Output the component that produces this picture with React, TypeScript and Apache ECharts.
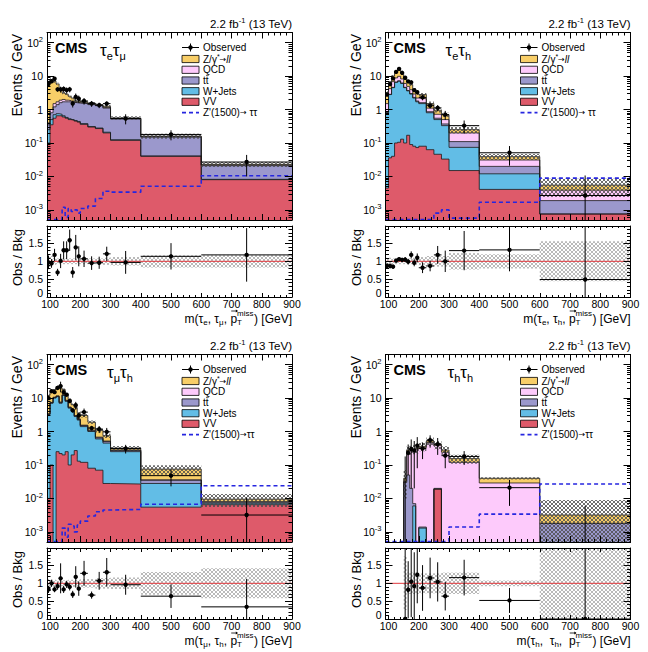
import React, { useEffect, useRef } from 'react';
import * as echarts from 'echarts';

const FONT = '"Liberation Sans", Arial, Helvetica, sans-serif';
const SYM = '"DejaVu Sans", "Liberation Sans", sans-serif';

// ---------- shared binning / ticks ----------
const binEdges = [90, 100, 110, 120, 130, 140, 150, 160, 170, 180, 190, 200, 225, 250, 275, 300, 400, 600, 900];
const xTickLabels = [100, 200, 300, 400, 500, 600, 700, 800, 900];
const ratioTickLabels = [0, 0.5, 1, 1.5];

// ---------- e mu channel (stack tops, events / GeV) ----------
const emuVV = [0.10, 0.35, 0.55, 0.65, 0.65, 0.60, 0.55, 0.50, 0.48, 0.45, 0.42, 0.36, 0.30, 0.27, 0.20, 0.12, 0.040, 0.0080];
const emuWJ = [0.25, 0.50, 0.70, 0.75, 0.72, 0.65, 0.58, 0.53, 0.50, 0.47, 0.44, 0.38, 0.31, 0.28, 0.21, 0.125, 0.041, 0.0082];
const emuTT = [0.35, 0.80, 1.20, 1.40, 1.60, 1.70, 1.70, 1.70, 1.65, 1.60, 1.55, 1.50, 1.40, 1.30, 1.10, 0.52, 0.15, 0.021];
const emuQCD = [0.40, 1.00, 1.50, 1.70, 1.90, 2.00, 1.90, 1.85, 1.75, 1.65, 1.62, 1.55, 1.45, 1.32, 1.15, 0.54, 0.155, 0.022];
const emuDY = [6.0, 7.5, 7.0, 5.8, 4.0, 3.1, 2.9, 2.5, 2.2, 1.75, 1.8, 1.7, 1.55, 1.4, 1.25, 0.56, 0.16, 0.023];
const emuObs = [5.8, 7.0, 8.3, 4.0, 4.0, 4.1, 3.8, 4.0, 1.5, 2.4, 2.1, 1.8, 1.5, 1.35, 1.5, 0.54, 0.18, 0.027];
const emuObsErr = [1.1, 0.9, 1.2, 0.6, 0.8, 0.8, 0.75, 0.75, 0.35, 0.6, 0.5, 0.4, 0.3, 0.25, 0.25, 0.18, 0.06, 0.017];
const emuRatio = [0.97, 0.94, 1.18, 0.69, 1.01, 1.31, 1.31, 1.59, 0.69, 1.39, 1.14, 1.07, 0.95, 0.96, 1.21, 0.97, 1.14, 1.18];
const emuRatioErr = [0.19, 0.12, 0.17, 0.10, 0.20, 0.25, 0.25, 0.30, 0.15, 0.35, 0.28, 0.23, 0.19, 0.17, 0.20, 0.32, 0.37, 0.75];
const emuUnc = [0.20, 0.15, 0.10, 0.08, 0.08, 0.08, 0.08, 0.08, 0.08, 0.08, 0.08, 0.08, 0.08, 0.08, 0.10, 0.12, 0.17, 0.17];
const emuZp = [5.2e-4, 5.2e-4, 5.2e-4, 5.2e-4, 5.2e-4, 1.2e-3, 6e-4, 1.1e-3, 9e-4, 1.0e-3, 8e-4, 1.1e-3, 1.3e-3, 2.2e-3, 3.6e-3, 3.4e-3, 5.1e-3, 0.0105];

// ---------- e tau_h channel ----------
const etVV = [0.0045, 0.036, 0.04, 0.10, 0.105, 0.13, 0.10, 0.17, 0.09, 0.08, 0.073, 0.08, 0.063, 0.046, 0.033, 0.015, 0.0041, 0.00075];
const etWJ = [0.80, 2.8, 4.5, 6.5, 7.0, 6.0, 4.5, 3.6, 2.9, 2.2, 1.7, 1.5, 0.80, 0.50, 0.33, 0.074, 0.012, 0.00076];
const etTT = [0.83, 2.85, 4.6, 6.6, 7.2, 6.2, 4.6, 3.7, 3.0, 2.3, 1.8, 1.6, 0.86, 0.55, 0.37, 0.11, 0.020, 0.0019];
const etQCD = [1.5, 4.2, 6.8, 8.8, 9.8, 8.2, 6.0, 4.9, 3.9, 2.9, 2.2, 2.1, 1.1, 0.72, 0.50, 0.20, 0.031, 0.0039];
const etDY = [3.2, 6.5, 10, 13, 15.5, 12, 8.5, 7.0, 5.5, 4.0, 3.0, 2.8, 1.5, 0.95, 0.70, 0.25, 0.039, 0.0055];
const etObs = [2.8, 5.7, 8.5, 13.3, 16.4, 12.5, 8.9, 6.9, 6.5, 3.8, 3.3, 2.3, 1.3, 1.12, 0.70, 0.33, 0.051, 0.0027];
const etObsErr = [0.3, 0.5, 0.6, 0.8, 0.8, 0.7, 0.6, 0.56, 0.55, 0.4, 0.36, 0.42, 0.22, 0.24, 0.21, 0.14, 0.03, 0.008];
const etRatio = [0.87, 0.87, 0.85, 1.02, 1.06, 1.04, 1.05, 0.99, 1.18, 0.96, 1.10, 0.82, 0.87, 1.18, 1.00, 1.30, 1.32, 0.49];
const etRatioErr = [0.08, 0.07, 0.06, 0.06, 0.05, 0.06, 0.07, 0.08, 0.10, 0.10, 0.12, 0.15, 0.15, 0.25, 0.30, 0.55, 0.60, 1.50];
const etUnc = [0.10, 0.10, 0.08, 0.08, 0.08, 0.08, 0.08, 0.08, 0.08, 0.10, 0.10, 0.12, 0.15, 0.15, 0.15, 0.23, 0.20, 0.56];
const etZp = [5.2e-4, 5.2e-4, 5.2e-4, 5.2e-4, 5.2e-4, 5.2e-4, 5.2e-4, 5.2e-4, 5.2e-4, 5.2e-4, 5.2e-4, 5.2e-4, 5.2e-4, 8e-4, 1.0e-3, 5.7e-4, 1.7e-3, 8.9e-3];

// ---------- mu tau_h channel ----------
const mtVV = [0.010, 0.10, 0, 0.25, 0.22, 0.20, 0.25, 0.10, 0.20, 0.27, 0.13, 0.12, 0.08, 0.07, 0.028, 0.027, 0.0055, 0.0065];
const mtWJ = [3.2, 7, 10, 11, 7, 12, 8, 5, 4, 2.8, 2.2, 1.4, 1.0, 0.6, 0.45, 0.25, 0.028, 0.0072];
const mtTT = [3.3, 7.2, 10.3, 11.3, 7.3, 12.3, 8.3, 5.2, 4.15, 2.9, 2.3, 1.5, 1.05, 0.65, 0.5, 0.27, 0.035, 0.0078];
const mtQCD = [3.4, 7.4, 10.6, 11.6, 7.6, 12.6, 8.6, 5.4, 4.3, 3.0, 2.4, 1.55, 1.1, 0.68, 0.52, 0.28, 0.036, 0.008];
const mtDY = [12, 16, 18, 22, 20, 18, 13, 9, 6.3, 5.2, 3.5, 3.0, 1.9, 1.1, 0.75, 0.32, 0.075, 0.0095];
const mtObs = [10, 16, 15, 20, 22.8, 15, 12.6, 8.1, 4.3, 6.1, 3.0, 3.8, 1.27, 1.18, 0.98, 0.31, 0.048, 0.0032];
const mtObsErr = [1.2, 1.6, 1.4, 2.2, 8, 1.8, 1.3, 0.9, 0.63, 1.6, 0.7, 1.05, 0.19, 0.28, 0.3, 0.09, 0.025, 0.0074];
const mtRatio = [0.83, 1.00, 0.83, 0.92, 1.14, 0.83, 0.97, 0.90, 0.69, 1.18, 0.85, 1.28, 0.67, 1.07, 1.31, 0.96, 0.64, 0.34];
const mtRatioErr = [0.10, 0.10, 0.08, 0.10, 0.42, 0.10, 0.10, 0.10, 0.10, 0.30, 0.20, 0.35, 0.10, 0.25, 0.40, 0.28, 0.33, 0.78];
const mtUnc = [0.12, 0.10, 0.10, 0.08, 0.08, 0.08, 0.08, 0.10, 0.10, 0.10, 0.10, 0.12, 0.12, 0.15, 0.15, 0.16, 0.32, 0.42];
const mtZp = [5.2e-4, 5.2e-4, 5.2e-4, 5.2e-4, 5.2e-4, 1.3e-3, 7e-4, 1.7e-3, 1.5e-3, 1.0e-3, 1.6e-3, 2.1e-3, 3e-3, 4e-3, 4.5e-3, 4.7e-3, 6.7e-3, 0.024];

// ---------- tau_h tau_h channel ----------
const hhVV = [0, 0, 0, 0, 0, 0, 0, 0, 0, 0, 0, 0, 0, 0.019, 0, 0, 0, 0];
const hhWJ = [0, 0, 0, 0, 0, 0, 0, 0, 0, 0.006, 0, 0.0013, 0, 0.019, 0, 0, 0, 0];
const hhTT = [0, 0, 0, 0, 0, 0, 0.03, 0.05, 0.02, 0.007, 0, 0.0014, 0, 0.02, 0, 0, 0, 0.0018];
const hhQCD = [0, 0, 0, 0, 0, 0, 0.032, 0.26, 0.27, 0.28, 0.30, 0.33, 0.47, 0.38, 0.24, 0.12, 0.029, 0.0018];
const hhDY = [0, 0, 0, 0, 0, 0, 0.04, 0.28, 0.29, 0.30, 0.32, 0.36, 0.52, 0.41, 0.28, 0.155, 0.04, 0.0032];
const hhObs = [null, null, null, null, null, null, 0, 0.23, 0.30, 0.27, 0.38, 0.31, 0.55, 0.42, 0.19, 0.18, 0.021, 0];
const hhObsErr = [0, 0, 0, 0, 0, 0, 0.18, 0.18, 0.28, 0.25, 0.3, 0.16, 0.22, 0.22, 0.11, 0.08, 0.015, 0.006];
const hhRatio = [null, null, null, null, null, null, 0, 0.82, 1.05, 0.92, 1.24, 0.87, 1.15, 1.04, 0.64, 1.16, 0.52, 0];
const hhRatioErr = [0, 0, 0, 0, 0, 0, 4, 0.8, 1.0, 0.95, 0.8, 0.64, 0.57, 0.55, 0.4, 0.5, 0.35, 4];
const hhUnc = [0, 0, 0, 0, 0, 0, 0.75, 0.3, 0.3, 0.3, 0.3, 0.28, 0.28, 0.28, 0.3, 0.3, 0.08, 1.8];
const hhZp = [5.2e-4, 5.2e-4, 5.2e-4, 5.2e-4, 5.2e-4, 5.2e-4, 5.2e-4, 5.2e-4, 5.2e-4, 5.2e-4, 5.2e-4, 5.2e-4, 5.2e-4, 5.2e-4, 5.2e-4, 1.4e-3, 3.4e-3, 0.027];

const COL = { dy: '#f8ce68', qcd: '#fdcafb', tt: '#9b98cc', wj: '#62bde6', vv: '#de5a6a', zp: '#2626e0', red: '#e2383d' };

const panels = [
  { ox: 0, oy: 0, chanX: 100, chan: 'τ{s|e}τ{s|μ}', xLeft: 'm(τ{s|e}, τ{s|μ}, ', zpArrowSpace: true,
    vv: emuVV, wj: emuWJ, tt: emuTT, qcd: emuQCD, dy: emuDY, obs: emuObs, obsErr: emuObsErr, ratio: emuRatio, ratioErr: emuRatioErr, unc: emuUnc, zp: emuZp },
  { ox: 338.5, oy: 0, chanX: 107, chan: 'τ{s|e}τ{s|h}', xLeft: 'm(τ{s|e}, τ{s|h}, ', zpArrowSpace: true,
    vv: etVV, wj: etWJ, tt: etTT, qcd: etQCD, dy: etDY, obs: etObs, obsErr: etObsErr, ratio: etRatio, ratioErr: etRatioErr, unc: etUnc, zp: etZp },
  { ox: 0, oy: 322, chanX: 107, chan: 'τ{s|μ}τ{s|h}', xLeft: 'm(τ{s|μ}, τ{s|h}, ', zpArrowSpace: false,
    vv: mtVV, wj: mtWJ, tt: mtTT, qcd: mtQCD, dy: mtDY, obs: mtObs, obsErr: mtObsErr, ratio: mtRatio, ratioErr: mtRatioErr, unc: mtUnc, zp: mtZp },
  { ox: 338.5, oy: 322, chanX: 109, chan: 'τ{s|h}τ{s|h}', xLeft: 'm(τ{s|h},  τ{s|h},  ', zpArrowSpace: false,
    vv: hhVV, wj: hhWJ, tt: hhTT, qcd: hhQCD, dy: hhDY, obs: hhObs, obsErr: hhObsErr, ratio: hhRatio, ratioErr: hhRatioErr, unc: hhUnc, zp: hhZp },
];

function hatch(color: string, size: number, lw: number) {
  const svg = `<svg xmlns="http://www.w3.org/2000/svg" width="${size}" height="${size}"><path d="M0 0L${size} ${size}M${size} 0L0 ${size}" stroke="${color}" stroke-width="${lw}" fill="none"/></svg>`;
  return { image: 'data:image/svg+xml;charset=utf-8,' + encodeURIComponent(svg), repeat: 'repeat', imageWidth: size, imageHeight: size };
}

let measureCtx: CanvasRenderingContext2D | null = null;
function textWidth(s: string, size: number, family = FONT) {
  if (!measureCtx) measureCtx = document.createElement('canvas').getContext('2d');
  if (!measureCtx) return s.length * size * 0.55;
  measureCtx.font = `${size}px ${family}`;
  return measureCtx.measureText(s).width;
}

const TINY = 1e-7;
const stepData = (vals: number[]) => {
  const d = vals.map((v, i) => [binEdges[i], Math.max(v, TINY)]);
  d.push([binEdges[binEdges.length - 1], Math.max(vals[vals.length - 1], TINY)]);
  return d;
};

function logLabel(v: number) {
  const l = Math.log10(v);
  const k = Math.round(l);
  if (Math.abs(l - k) > 1e-6) return '';
  if (k === 0) return '1';
  if (k === 1) return '10';
  return '10{sup|' + k + '}';
}

const errRender = (isLog: boolean) => (params: any, api: any) => {
  const xc = api.value(0), y = api.value(1), xl = api.value(2), xr = api.value(3), e = api.value(4);
  const hasPoint = isLog ? y > 1e-8 : true;
  let lo = y - e;
  if (isLog && lo <= 0) lo = 1e-9;
  const hi = y + e;
  const pHi = api.coord([xc, hi]);
  const pLo = api.coord([xc, lo]);
  const st = { stroke: '#000', lineWidth: 1 };
  const ch: any[] = [{ type: 'line', shape: { x1: pHi[0], y1: pHi[1], x2: pLo[0], y2: pLo[1] }, style: st }];
  if (hasPoint) {
    const pl = api.coord([xl, y]);
    const pr = api.coord([xr, y]);
    const pc = api.coord([xc, y]);
    ch.push({ type: 'line', shape: { x1: pl[0], y1: pl[1], x2: pr[0], y2: pr[1] }, style: st });
    ch.push({ type: 'circle', shape: { cx: pc[0], cy: pc[1], r: 2.2 }, style: { fill: '#000' } });
  }
  return { type: 'group', children: ch };
};

const rectRender = (fill: any) => (params: any, api: any) => {
  const a = api.coord([api.value(0), api.value(3)]);
  const b = api.coord([api.value(1), api.value(2)]);
  return { type: 'rect', shape: { x: a[0], y: a[1], width: b[0] - a[0], height: b[1] - a[1] }, style: { fill } };
};

function buildOption() {
  const grid: any[] = [];
  const xAxis: any[] = [];
  const yAxis: any[] = [];
  const series: any[] = [];
  const graphic: any[] = [];
  const mainHatch = hatch('#4a4a4a', 4, 0.8);
  const ratioHatch = hatch('#a8a8a8', 4, 0.8);
  const tickStyle = { color: '#000', width: 1 };

  const xAx = (g: number, pos: string, labels: boolean, len: number) => ({
    type: 'value', gridIndex: g, position: pos, min: 90, max: 900, splitNumber: 8, z: 10,
    axisLine: { show: true, onZero: false, lineStyle: { color: '#000', width: 1 } },
    axisTick: { show: true, inside: true, length: len, lineStyle: tickStyle },
    minorTick: { show: true, splitNumber: 5, length: len / 2, lineStyle: tickStyle },
    splitLine: { show: false },
    axisLabel: labels ? {
      show: true, margin: 1, fontSize: 10.5, lineHeight: 11, color: '#000', fontFamily: FONT,
      formatter: (v: number) => (xTickLabels.indexOf(Math.round(v)) >= 0 && Math.abs(v - Math.round(v)) < 1e-6 ? String(Math.round(v)) : ''),
    } : { show: false },
  });
  const logAx = (g: number, pos: string, labels: boolean) => ({
    type: 'log', logBase: 10, gridIndex: g, position: pos, min: 5e-4, max: 200, z: 10,
    axisLine: { show: true, onZero: false, lineStyle: { color: '#000', width: 1 } },
    axisTick: { show: true, inside: true, length: 7, lineStyle: tickStyle },
    minorTick: { show: true, splitNumber: 9, length: 3.5, lineStyle: tickStyle },
    splitLine: { show: false },
    axisLabel: labels ? {
      show: true, margin: 4, fontSize: 10.5, lineHeight: 14, color: '#000', fontFamily: FONT, showMinLabel: false, showMaxLabel: false,
      formatter: logLabel,
      rich: { sup: { fontSize: 7.5, lineHeight: 8, verticalAlign: 'top', fontFamily: FONT, color: '#000' } },
    } : { show: false },
  });
  const ratioAx = (g: number, pos: string, labels: boolean) => ({
    type: 'value', gridIndex: g, position: pos, min: 0, max: 1.99, interval: 0.5, z: 10,
    axisLine: { show: true, onZero: false, lineStyle: { color: '#000', width: 1 } },
    axisTick: { show: true, inside: true, length: 7, lineStyle: tickStyle },
    minorTick: { show: true, splitNumber: 5, length: 3.5, lineStyle: tickStyle },
    splitLine: { show: false },
    axisLabel: labels ? {
      show: true, margin: 4, fontSize: 10.5, lineHeight: 11, color: '#000', fontFamily: FONT, showMaxLabel: false,
      formatter: (v: number) => {
        if (!ratioTickLabels.some((t) => Math.abs(t - v) < 1e-6)) return '';
        return Math.abs(v) < 1e-6 ? '{z|0}' : String(v);
      },
      rich: { z: { fontSize: 10.5, lineHeight: 11, padding: [0, 0, 9, 0], fontFamily: FONT, color: '#000' } },
    } : { show: false },
  });

  const subRich = (size: number) => ({ fontSize: size, lineHeight: size, verticalAlign: 'bottom', fontFamily: FONT, fill: '#000' });
  const supRich = (size: number) => ({ fontSize: size, lineHeight: size, verticalAlign: 'top', fontFamily: FONT, fill: '#000' });

  panels.forEach((p, pi) => {
    const gM = 2 * pi;
    const gR = 2 * pi + 1;
    grid.push({ left: p.ox + 47, top: p.oy + 32.5, width: 245, height: 187.5, containLabel: false, outerBoundsMode: 'none', show: false });
    grid.push({ left: p.ox + 47, top: p.oy + 226, width: 245, height: 71, containLabel: false, outerBoundsMode: 'none', show: false });
    xAxis.push(xAx(gM, 'bottom', false, 6), xAx(gM, 'top', false, 6));
    xAxis.push(xAx(gR, 'bottom', true, 4), xAx(gR, 'top', false, 4));
    yAxis.push(logAx(gM, 'left', true), logAx(gM, 'right', false));
    yAxis.push(ratioAx(gR, 'left', true), ratioAx(gR, 'right', false));

    const mx = 2 * gM;
    const rx = 2 * gR;
    const stacks: [number[], string][] = [[p.dy, COL.dy], [p.qcd, COL.qcd], [p.tt, COL.tt], [p.wj, COL.wj], [p.vv, COL.vv]];
    stacks.forEach(([vals, color]) => {
      series.push({
        type: 'line', xAxisIndex: mx, yAxisIndex: mx, data: stepData(vals), step: 'end', symbol: 'none', showSymbol: false,
        clip: true, silent: true, z: 2, lineStyle: { color: '#1a1a1a', width: 0.8 }, areaStyle: { color, opacity: 1, origin: 'start' },
      });
    });
    const bandMain = p.dy
      .map((t, i) => (t > 0 && p.unc[i] > 0 ? [binEdges[i], binEdges[i + 1], Math.max(t * (1 - p.unc[i]), 1e-9), t * (1 + p.unc[i])] : null))
      .filter((d) => d !== null);
    series.push({ type: 'custom', xAxisIndex: mx, yAxisIndex: mx, clip: true, silent: true, z: 3, encode: { x: [0, 1], y: [2, 3] }, data: bandMain, renderItem: rectRender(mainHatch) });
    series.push({
      type: 'line', xAxisIndex: mx, yAxisIndex: mx, data: stepData(p.zp), step: 'end', symbol: 'none', showSymbol: false, clip: true, silent: true, z: 4,
      lineStyle: { color: COL.zp, width: 1.6, type: [4, 3] },
    });
    const obsData = (p.obs as (number | null)[])
      .map((o, i) => (o === null ? null : [(binEdges[i] + binEdges[i + 1]) / 2, o > 0 ? o : 1e-9, binEdges[i], binEdges[i + 1], p.obsErr[i]]))
      .filter((d) => d !== null);
    series.push({ type: 'custom', xAxisIndex: mx, yAxisIndex: mx, clip: true, silent: true, z: 5, encode: { x: 0, y: 1 }, data: obsData, renderItem: errRender(true) });

    // ratio panel
    const bandRatio = p.unc
      .map((u, i) => (u > 0 ? [binEdges[i], binEdges[i + 1], Math.max(1 - u, -1), 1 + u] : null))
      .filter((d) => d !== null);
    series.push({ type: 'custom', xAxisIndex: rx, yAxisIndex: rx, clip: true, silent: true, z: 2, encode: { x: [0, 1], y: [2, 3] }, data: bandRatio, renderItem: rectRender(ratioHatch) });
    series.push({
      type: 'line', xAxisIndex: rx, yAxisIndex: rx, data: [[90, 1], [900, 1]], symbol: 'none', showSymbol: false, silent: true, z: 3,
      lineStyle: { color: COL.red, width: 1 },
    });
    const ratioData = (p.ratio as (number | null)[])
      .map((r, i) => (r === null ? null : [(binEdges[i] + binEdges[i + 1]) / 2, r, binEdges[i], binEdges[i + 1], p.ratioErr[i]]))
      .filter((d) => d !== null);
    series.push({ type: 'custom', xAxisIndex: rx, yAxisIndex: rx, clip: true, silent: true, z: 5, encode: { x: 0, y: 1 }, data: ratioData, renderItem: errRender(false) });

    // ---------- texts ----------
    const ox = p.ox;
    const oy = p.oy;
    const txt = (x: number, y: number, text: string, extra: any = {}, rot = 0) => ({
      type: 'text', x, y, rotation: rot, silent: true, z: 20,
      style: { text, fill: '#000', fontFamily: FONT, fontSize: 12, align: 'left', verticalAlign: 'middle', ...extra },
    });
    const line = (x1: number, y1: number, x2: number, y2: number, stroke = '#000', lw = 1, extra: any = {}) => ({
      type: 'line', silent: true, z: 20, shape: { x1, y1, x2, y2 }, style: { stroke, lineWidth: lw, ...extra },
    });
    graphic.push(txt(ox + 292, oy + 24, '2.2 fb{u|-1} (13 TeV)', {
      align: 'right', fontSize: 11.5, lineHeight: 15, rich: { u: supRich(7.5) },
    }));
    graphic.push(txt(ox + 55, oy + 47.8, 'CMS', { fontSize: 14.5, fontWeight: 'bold' }));
    graphic.push(txt(ox + p.chanX, oy + 50, p.chan, { fontSize: 17, lineHeight: 22, rich: { s: subRich(11) } }));
    graphic.push(txt(ox + 17, oy + 34, 'Events / GeV', { align: 'right', fontSize: 14 }, Math.PI / 2));
    graphic.push(txt(ox + 17.5, oy + 229, 'Obs / Bkg', { align: 'right', fontSize: 13 }, Math.PI / 2));

    // x-axis title: m(..., p_T^miss) [GeV] assembled from pieces
    const X0 = ox + 292;
    const Y0 = oy + 318.5;
    const wTail = textWidth(') [GeV]', 12);
    const wMiss = textWidth('miss', 8);
    const wP = textWidth('p', 12);
    const blockL = X0 - wTail - wMiss - 0.5;
    const pL = blockL - wP;
    graphic.push(txt(X0, Y0, ') [GeV]', { align: 'right', fontSize: 12, lineHeight: 13 }));
    graphic.push(txt(blockL, Y0 - 5.2, 'miss', { fontSize: 8, lineHeight: 8 }));
    graphic.push(txt(blockL, Y0 + 4, 'T', { fontSize: 8, lineHeight: 8 }));
    graphic.push(txt(pL, Y0, 'p', { fontSize: 12, lineHeight: 13 }));
    const pc = pL + wP / 2 + 0.5;
    graphic.push(line(pc - 3, Y0 - 7.5, pc + 3, Y0 - 7.5, '#000', 0.8));
    graphic.push({ type: 'polygon', silent: true, z: 20, shape: { points: [[pc + 3.8, Y0 - 7.5], [pc + 1.6, Y0 - 9.1], [pc + 1.6, Y0 - 5.9]] }, style: { fill: '#000' } });
    graphic.push(txt(pL, Y0, p.xLeft, { align: 'right', fontSize: 12, lineHeight: 15, rich: { s: subRich(8) } }));

    // legend
    const rowY = [47.5, 59, 69.8, 80.5, 91.2, 101.8, 112.6];
    const lx = ox + 182;
    const tx = ox + 203;
    graphic.push(line(lx, oy + rowY[0], lx + 17, oy + rowY[0]));
    graphic.push(line(lx + 8.5, oy + rowY[0] - 4, lx + 8.5, oy + rowY[0] + 4));
    graphic.push({ type: 'circle', silent: true, z: 21, shape: { cx: lx + 8.5, cy: oy + rowY[0], r: 2.2 }, style: { fill: '#000' } });
    graphic.push(txt(tx, oy + rowY[0], 'Observed', { fontSize: 10 }));
    const legRich = {
      u: supRich(7),
      a: { fontSize: 8, lineHeight: 13, fontFamily: SYM, fill: '#000' },
      i: { fontSize: 10, lineHeight: 13, fontStyle: 'italic', fontFamily: FONT, fill: '#000' },
    };
    const boxes: [string, string][] = [
      [COL.dy, 'Z/γ{u|*}{a|→}{i|ll}'], [COL.qcd, 'QCD'], [COL.tt, 'tt'], [COL.wj, 'W+Jets'], [COL.vv, 'VV'],
    ];
    boxes.forEach(([c, label], k) => {
      const yy = oy + rowY[k + 1];
      graphic.push({ type: 'rect', silent: true, z: 20, shape: { x: lx, y: yy - 3.6, width: 17, height: 7.2 }, style: { fill: c, stroke: '#000', lineWidth: 0.8 } });
      graphic.push(txt(tx, yy, label, { fontSize: 10, lineHeight: 13, rich: legRich }));
    });
    // bar over the second t of "tt"
    const wt = textWidth('t', 10);
    graphic.push(line(tx + wt + 0.2, oy + rowY[3] - 5.2, tx + 2 * wt + 0.2, oy + rowY[3] - 5.2, '#000', 0.7));
    graphic.push(line(lx, oy + rowY[6], lx + 17, oy + rowY[6], COL.zp, 1.6, { lineDash: [4, 3] }));
    graphic.push(txt(tx, oy + rowY[6], p.zpArrowSpace ? "Z'(1500){a|→} ττ" : "Z'(1500){a|→}ττ", { fontSize: 10, lineHeight: 13, rich: legRich }));
  });

  return {
    animation: false,
    backgroundColor: '#ffffff',
    textStyle: { fontFamily: FONT },
    grid, xAxis, yAxis, series, graphic,
  };
}

export default function App() {
  const ref = useRef<HTMLDivElement>(null);
  useEffect(() => {
    if (!ref.current) return;
    const chart = echarts.init(ref.current, undefined, { renderer: 'svg' });
    chart.setOption(buildOption() as any);
    return () => chart.dispose();
  }, []);
  return <div ref={ref} style={{ position: 'absolute', left: 0, top: 0, width: 648, height: 652, background: '#fff' }} />;
}
